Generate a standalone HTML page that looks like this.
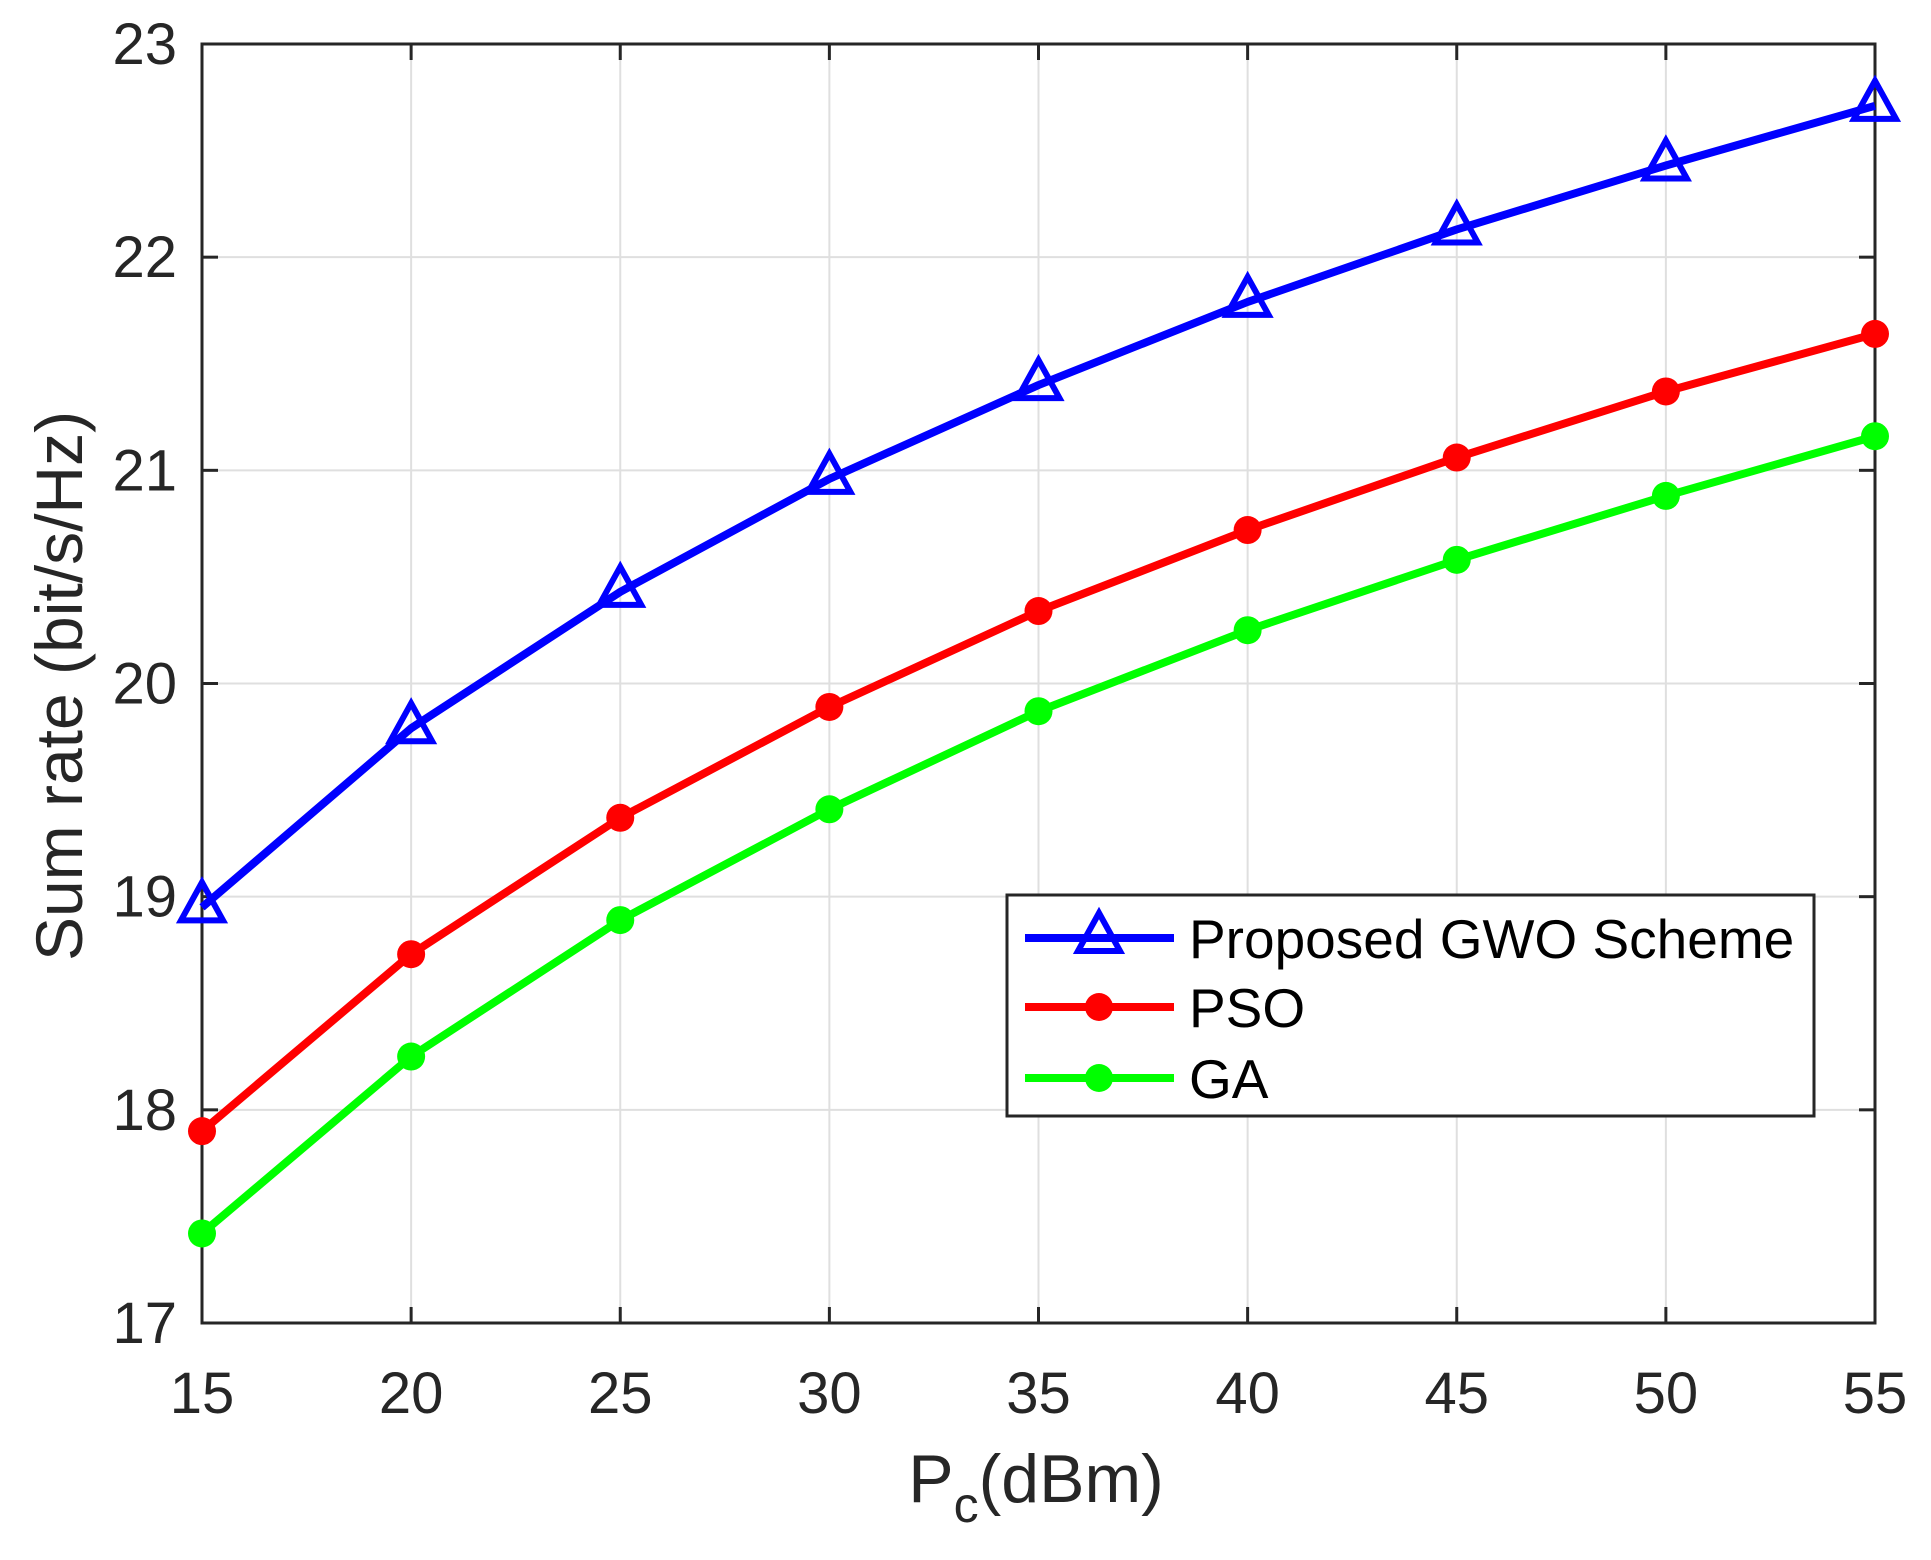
<!DOCTYPE html>
<html><head><meta charset="utf-8"><style>
html,body{margin:0;padding:0;background:#fff}
svg{display:block;font-family:"Liberation Sans",Arial,sans-serif}
</style></head><body>
<svg id="chart" width="1931" height="1560" viewBox="0 0 1931 1560"></svg>
<script>
const xCats=[15,20,25,30,35,40,45,50,55];
const gwo=[18.95,19.79,20.43,20.96,21.40,21.79,22.13,22.43,22.71];
const pso=[17.90,18.73,19.37,19.89,20.34,20.72,21.06,21.37,21.64];
const ga=[17.42,18.25,18.89,19.41,19.87,20.25,20.58,20.88,21.16];
const xTicks=[15,20,25,30,35,40,45,50,55];
const yTicks=[17,18,19,20,21,22,23];

const L=202,R=1875,T=44,B=1323;
const X=v=>L+(v-15)/(55-15)*(R-L);
const Y=v=>B-(v-17)/(23-17)*(B-T);
const svg=document.getElementById('chart');
const NS='http://www.w3.org/2000/svg';
function mk(tag,attrs,parent){const e=document.createElementNS(NS,tag);for(const k in attrs)e.setAttribute(k,attrs[k]);(parent||svg).appendChild(e);return e;}

const grid=mk('g',{});


xTicks.forEach(t=>{mk('line',{x1:X(t),x2:X(t),y1:T,y2:B,stroke:'#dfdfdf','stroke-width':2},grid);});
yTicks.forEach(t=>{mk('line',{x1:L,x2:R,y1:Y(t),y2:Y(t),stroke:'#dfdfdf','stroke-width':2},grid);});

const ax=mk('g',{});


mk('rect',{x:L,y:T,width:R-L,height:B-T,fill:'none',stroke:'#262626','stroke-width':3},ax);
xTicks.forEach(t=>{
  mk('line',{x1:X(t),x2:X(t),y1:B,y2:B-16,stroke:'#262626','stroke-width':3},ax);
  mk('line',{x1:X(t),x2:X(t),y1:T,y2:T+16,stroke:'#262626','stroke-width':3},ax);
  const tx=mk('text',{x:X(t),y:1413,'font-size':58,'text-anchor':'middle',fill:'#262626'},ax);
  
  
  tx.textContent=t;
});
yTicks.forEach(t=>{
  mk('line',{x1:L,x2:L+16,y1:Y(t),y2:Y(t),stroke:'#262626','stroke-width':3},ax);
  mk('line',{x1:R,x2:R-16,y1:Y(t),y2:Y(t),stroke:'#262626','stroke-width':3},ax);
  const ty=mk('text',{x:177,y:Y(t)+20,'font-size':58,'text-anchor':'end',fill:'#262626'},ax);
  
  
  ty.textContent=t;
});
const yl=mk('text',{x:0,y:0,'font-size':66,'text-anchor':'middle',fill:'#262626',transform:'translate(82,686) rotate(-90)'});


yl.textContent='Sum rate (bit/s/Hz)';
const xl=mk('text',{x:1036,y:1502,'font-size':68,'text-anchor':'middle',fill:'#262626'});


xl.innerHTML='P<tspan dy="20" font-size="50">c</tspan><tspan dy="-20">(dBm)</tspan>';

function tri(g,cx,cy,color){mk('polygon',{points:`${cx},${cy-25} ${cx-21},${cy+13} ${cx+21},${cy+13}`,fill:'none',stroke:color,'stroke-width':6},g);}
function dot(g,cx,cy,color){mk('circle',{cx:cx,cy:cy,r:14,fill:color},g);}
const series=[{name:'gwo',vals:gwo,color:'#0000ff',m:tri,label:'Proposed GWO Scheme'},
  {name:'pso',vals:pso,color:'#ff0000',m:dot,label:'PSO'},
  {name:'ga',vals:ga,color:'#00ff00',m:dot,label:'GA'}];
series.forEach(s=>{
  const g=mk('g',{});
  
  
  mk('polyline',{points:s.vals.map((v,i)=>X(xCats[i])+','+Y(v)).join(' '),fill:'none',stroke:s.color,'stroke-width':8,'stroke-linejoin':'round'},g);
  s.vals.forEach((v,i)=>s.m(g,X(xCats[i]),Y(v),s.color));
});

const lg=mk('g',{});


mk('rect',{x:1007,y:895,width:807,height:221,fill:'#fff',stroke:'#262626','stroke-width':3},lg);
const ly=[938,1007,1078];
series.forEach((s,i)=>{
  const e=mk('g',{},lg);
  
  
  mk('line',{x1:1025,x2:1174,y1:ly[i],y2:ly[i],stroke:s.color,'stroke-width':8},e);
  s.m(e,1099,ly[i],s.color);
  const t=mk('text',{x:1189,y:ly[i]+20,'font-size':55,fill:'#000'},e);
  t.textContent=s.label;
});
</script>
</body></html>
